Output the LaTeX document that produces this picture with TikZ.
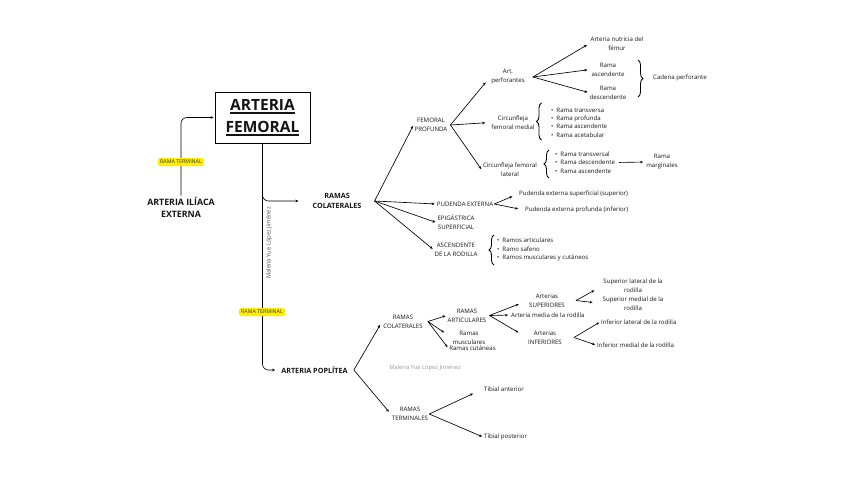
\documentclass[tikz,border=0pt]{standalone}
\usepackage{fontspec}
\setmainfont{Open Sans}
\usetikzlibrary{arrows.meta,decorations.pathreplacing}
\definecolor{hly}{HTML}{FFEE00}
\newcommand\myul[1]{\setbox0\hbox{#1}\rlap{\rule[-3pt]{\wd0}{1.3pt}}\box0}
\begin{document}
\begin{tikzpicture}[x=1pt,y=-1pt,
  every node/.style={inner sep=1pt, text=black!92},
  t/.style={font=\fontsize{6.1}{9}\selectfont, align=center},
  tb/.style={font=\fontsize{7.2}{10.5}\selectfont\bfseries, align=center},
  lst/.style={font=\fontsize{6.1}{8.4}\selectfont, align=left, anchor=west},
  conn/.style={draw, line width=0.65pt, -{Stealth[length=3pt,width=2.6pt]}, shorten >=1pt},
  brc/.style={draw, line width=0.85pt, decorate, decoration={brace, amplitude=5pt}},
  hl/.style={fill=hly, rounded corners=1.5pt, inner xsep=2pt, inner ysep=2.2pt, font=\fontsize{5.3}{5.5}\selectfont, text=black!80},
  wm/.style={font=\fontsize{5.8}{6}\selectfont}
]
\useasboundingbox (0,0) rectangle (848,477);

% main nodes
\node[draw, line width=0.8pt, minimum width=95pt, minimum height=51pt, font=\fontsize{15.5}{22}\selectfont\bfseries, align=center] (af) at (262.5,117.5) {\myul{ARTERIA}\\\myul{FEMORAL}};
\node[font=\fontsize{8.8}{12}\selectfont\bfseries, align=center] (ai) at (181,207) {ARTERIA ILÍACA\\EXTERNA};
\node[tb] (rc) at (337,201) {RAMAS\\COLATERALES};
\node[tb] (ap) at (314.5,370) {ARTERIA POPLÍTEA};

\draw[conn, rounded corners=6pt] (ai.north) |- (af.west);
\draw[conn, rounded corners=6pt] (af.south) |- ([xshift=-12pt]rc.west);
\draw[conn, rounded corners=6pt] (af.south) |- ([xshift=-4pt]ap.west);

\node[hl] (rt1) at (181,162) {RAMA TERMINAL};
\node[hl] (rt2) at (262,312) {RAMA TERMINAL};
\node[wm, rotate=90, text=black!70] (wm1) at (269,243) {Malena Yue López Jiménez};
\node[wm, text=black!40] (wm2) at (425,368) {Malena Yue López Jiménez};

% femoral collaterals
\coordinate (rcO) at ([xshift=12pt]rc.east);
\node[t] (fp) at (431,125) {FEMORAL\\PROFUNDA};
\node[t] (pe) at (465,204) {PUDENDA EXTERNA};
\node[t] (es) at (456,222.5) {EPIGÁSTRICA\\SUPERFICIAL};
\node[t] (ar) at (456,249.5) {ASCENDENTE\\DE LA RODILLA};
\draw[conn] (rcO) -- (fp.west);
\draw[conn] (rcO) -- (pe.west);
\draw[conn] (rcO) -- (es.west);
\draw[conn] (rcO) -- (ar.west);

% femoral profunda
\coordinate (fpO) at ([xshift=2pt]fp.east);
\node[t] (apf) at (508,77) {Art.\\perforantes};
\node[t] (cfm) at (513,122.5) {Circunfleja\\femoral medial};
\node[t] (cfl) at (510,170) {Circunfleja femoral\\lateral};
\draw[conn, shorten >=7pt] (fpO) -- (apf.west);
\draw[conn, shorten >=5pt] (fpO) -- (cfm.west);
\draw[conn] (fpO) -- (cfl.west);

% perforantes
\coordinate (apO) at ([xshift=7pt]apf.east);
\node[t] (anf) at (617,43.5) {Arteria nutricia del\\fémur};
\node[t] (ra) at (608,69.5) {Rama\\ascendente};
\node[t] (rd) at (608,92.5) {Rama\\descendente};
\draw[conn, shorten >=3pt] (apO) -- (anf.west);
\draw[conn, shorten >=3pt] (apO) -- (ra.west);
\draw[conn] (apO) -- (rd.west);
\draw[brc] (638,60) -- (638,97);
\node[t, anchor=west] (cp) at (652,78) {Cadena perforante};

% circunfleja medial
\draw[brc] (541.5,140) -- (541.5,103);
\node[lst] (lm) at (550,122.5) {\textbullet\hspace{3pt}Rama transversa\\\textbullet\hspace{3pt}Rama profunda\\\textbullet\hspace{3pt}Rama ascendente\\\textbullet\hspace{3pt}Rama acetabular};

% circunfleja lateral
\draw[brc] (549,178) -- (549,150);
\node[lst] (ll) at (554,162.5) {\textbullet\hspace{3pt}Rama transversal\\\textbullet\hspace{3pt}Rama descendente\\\textbullet\hspace{3pt}Rama ascendente};
\node[t] (rm) at (662,162) {Rama\\marginales};
\draw[conn, shorten <=3pt, shorten >=2pt] (ll.east) -- (rm.west);

% pudenda
\node[t, anchor=west] (pes) at (518,194) {Pudenda externa superficial (superior)};
\node[t, anchor=west] (pep) at (524,210) {Pudenda externa profunda (inferior)};
\draw[conn, shorten >=6pt] (pe.east) -- (pes.west);
\draw[conn, shorten >=6pt] (pe.east) -- (pep.west);

% ascendente rodilla
\draw[brc] (494,265) -- (494,235);
\node[lst] (la) at (496,249.5) {\textbullet\hspace{3pt}Ramos articulares\\\textbullet\hspace{3pt}Ramo safeno\\\textbullet\hspace{3pt}Ramos musculares y cutáneos};

% poplitea
\coordinate (apO2) at ([xshift=5pt]ap.east);
\node[t] (rcp) at (403,321.5) {RAMAS\\COLATERALES};
\node[t] (rtp) at (410,414) {RAMAS\\TERMINALES};
\draw[conn, shorten >=4pt] (apO2) -- (rcp.west);
\draw[conn, shorten >=3pt] (apO2) -- (rtp.west);

% terminales
\node[t, anchor=west] (ta) at (483,389) {Tibial anterior};
\node[t, anchor=west] (tp) at (483,437) {Tibial posterior};
\draw[conn, shorten >=11pt] (rtp.east) -- (ta.west);
\draw[conn] (rtp.east) -- (tp.west);

% colaterales poplitea
\coordinate (rcpO) at ([xshift=4pt]rcp.east);
\node[t] (rart) at (467,315.5) {RAMAS\\ARTICULARES};
\node[t] (rmus) at (469,337.5) {Ramas\\musculares};
\node[t] (rcut) at (472.5,348) {Ramas cutáneas};
\draw[conn] (rcpO) -- (rart.west);
\draw[conn, shorten >=9pt] (rcpO) -- (rmus.west);
\draw[conn] (rcpO) -- (rcut.west);

% articulares
\coordinate (rartO) at ([xshift=2pt]rart.east);
\node[t] (asup) at (547,300.5) {Arterias\\SUPERIORES};
\node[t, anchor=west] (amr) at (510,315) {Arteria media de la rodilla};
\node[t] (ainf) at (545,337.5) {Arterias\\INFERIORES};
\draw[conn, shorten >=10pt] (rartO) -- (asup.west);
\draw[conn, shorten >=2pt] (rartO) -- (amr.west);
\draw[conn, shorten >=10pt] (rartO) -- (ainf.west);

% superiores
\coordinate (asO) at ([xshift=10pt]asup.east);
\node[t] (slr) at (633,286) {Superior lateral de la\\rodilla};
\node[t] (smr) at (633,303.5) {Superior medial de la\\rodilla};
\draw[conn, shorten >=9pt] (asO) -- (slr.west);
\draw[conn, shorten >=9pt] (asO) -- (smr.west);

% inferiores
\coordinate (aiO) at ([xshift=11pt]ainf.east);
\node[t, anchor=west] (ilr) at (600,322) {Inferior lateral de la rodilla};
\node[t, anchor=west] (imr) at (596,345) {Inferior medial de la rodilla};
\draw[conn] (aiO) -- (ilr.west);
\draw[conn] (aiO) -- (imr.west);
\end{tikzpicture}
\end{document}
